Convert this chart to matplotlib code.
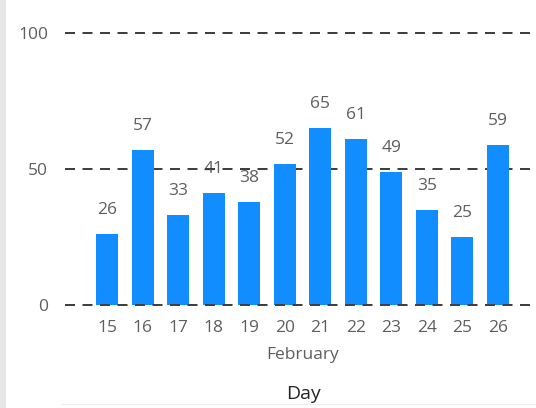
import matplotlib
matplotlib.use("Agg")
import matplotlib.pyplot as plt
from matplotlib.lines import Line2D
from matplotlib.patches import Rectangle

days = ["15", "16", "17", "18", "19", "20", "21", "22", "23", "24", "25", "26"]
counts = [26, 57, 33, 41, 38, 52, 65, 61, 49, 35, 25, 59]
y_ticks = [0, 50, 100]
month_label = "February"
axis_title = "Day"

BAR_COLOR = "#118DFF"
TEXT_COLOR = "#605E5C"
TITLE_COLOR = "#252423"
GRID_COLOR = "#404040"
FONT = ["Open Sans", "DejaVu Sans"]
FS = 12.5

W, H = 536, 408
fig = plt.figure(figsize=(W / 100, H / 100), dpi=100)
fig.patch.set_facecolor("white")

# plot area in pixel terms: x from 65 to 536, y=0 at row 305, y=100 at row 33
ax = fig.add_axes([65 / W, (H - 305) / H, (W - 65) / W, (305 - 33) / H])
ax.set_facecolor("none")
for s in ax.spines.values():
    s.set_visible(False)

x = list(range(len(days)))
spacing = 35.55
ax.set_xlim(-(107 - 65) / spacing, -(107 - 65) / spacing + (W - 65) / spacing)
ax.set_ylim(0, 100)

ax.bar(x, counts, width=22 / spacing, color=BAR_COLOR, zorder=3)

dash = (0, (5, 3.75))
for t in y_ticks:
    z = 4 if t == 0 else 2
    ax.axhline(t, color=GRID_COLOR, lw=1.44, linestyle=dash, zorder=z, clip_on=False)

for xi, v in zip(x, counts):
    ax.annotate(str(v), (xi, v), xytext=(0, 24), textcoords="offset pixels",
                ha="center", va="center", fontsize=FS, color=TEXT_COLOR,
                family=FONT, zorder=1)

ax.set_xticks(x)
ax.set_xticklabels(days, family=FONT, fontsize=FS, color=TEXT_COLOR)
ax.set_yticks(y_ticks)
ax.set_yticklabels([str(t) for t in y_ticks], family=FONT, fontsize=FS, color=TEXT_COLOR)
ax.tick_params(axis="both", length=0)
ax.tick_params(axis="x", pad=10.5)
ax.tick_params(axis="y", pad=(65 - 48) / 1.39)

fig.text(303 / W, (H - 355) / H, month_label, ha="center", va="center",
         fontsize=FS, color=TEXT_COLOR, family=FONT)
fig.text(303 / W, (H - 394) / H, axis_title, ha="center", va="center",
         fontsize=14, color=TITLE_COLOR, family=FONT)

# light frame edges around the visual
fig.add_artist(Rectangle((0, 0), 6 / W, 1, transform=fig.transFigure,
                         facecolor="#E6E6E6", edgecolor="none"))
fig.add_artist(Line2D([62 / W, 1], [(H - 404) / H] * 2, transform=fig.transFigure,
                      color="#EDEDED", lw=0.8))

fig.savefig("out.png", dpi=100, facecolor="white")
